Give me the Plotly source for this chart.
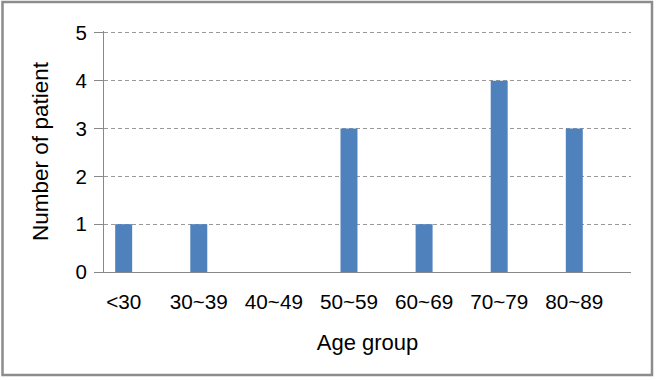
import plotly.graph_objects as go

age_groups = ["<30", "30~39", "40~49", "50~59", "60~69", "70~79", "80~89"]
patients = [1, 1, 0, 3, 1, 4, 3]
y_ticks = [0, 1, 2, 3, 4, 5]

W, H = 658, 381
L, R, T, B = 104, 27, 31, 109
pw, ph = W - L - R, H - T - B

fig = go.Figure(go.Bar(
    x=list(range(len(age_groups))), y=patients,
    marker=dict(color="#4F81BD", line=dict(width=0)),
    width=0.226,
))

font = dict(family="Liberation Sans, Arial, sans-serif", color="#000000")

fig.update_layout(
    width=W, height=H,
    margin=dict(l=L, r=R, t=T, b=B, autoexpand=False),
    paper_bgcolor="white", plot_bgcolor="white",
    font=dict(**font, size=20),
    showlegend=False,
    xaxis=dict(
        range=[-0.262, 6.755],
        tickmode="array", tickvals=list(range(len(age_groups))), ticktext=age_groups,
        showline=True, linecolor="#888888", linewidth=1,
        ticks="", showgrid=False, zeroline=False,
        tickfont=dict(size=20.7), ticklabelstandoff=11,
        title=dict(text="Age group", font=dict(size=22), standoff=22),
        automargin=False,
    ),
    yaxis=dict(
        range=[0, 5.04], tickmode="array", tickvals=y_ticks,
        showline=True, linecolor="#888888", linewidth=1,
        ticks="outside", ticklen=9, tickcolor="#888888",
        showgrid=True, gridcolor="#999999", griddash="4px,3px", gridwidth=1,
        zeroline=False,
        tickfont=dict(size=20.5), ticklabelstandoff=3,
        title=dict(text="Number of patient", font=dict(size=22.5), standoff=20),
        automargin=False,
    ),
    shapes=[dict(
        type="rect", xref="paper", yref="paper",
        x0=(2.5 - L) / pw, x1=(652 - L) / pw,
        y0=(H - B - 375) / ph, y1=(H - B - 2) / ph,
        line=dict(color="#8C8C8C", width=2.5), fillcolor="rgba(0,0,0,0)",
        layer="above",
    )],
)

fig.write_html("out.html", config={"displayModeBar": False},
               post_script="document.body.style.margin='0';")
